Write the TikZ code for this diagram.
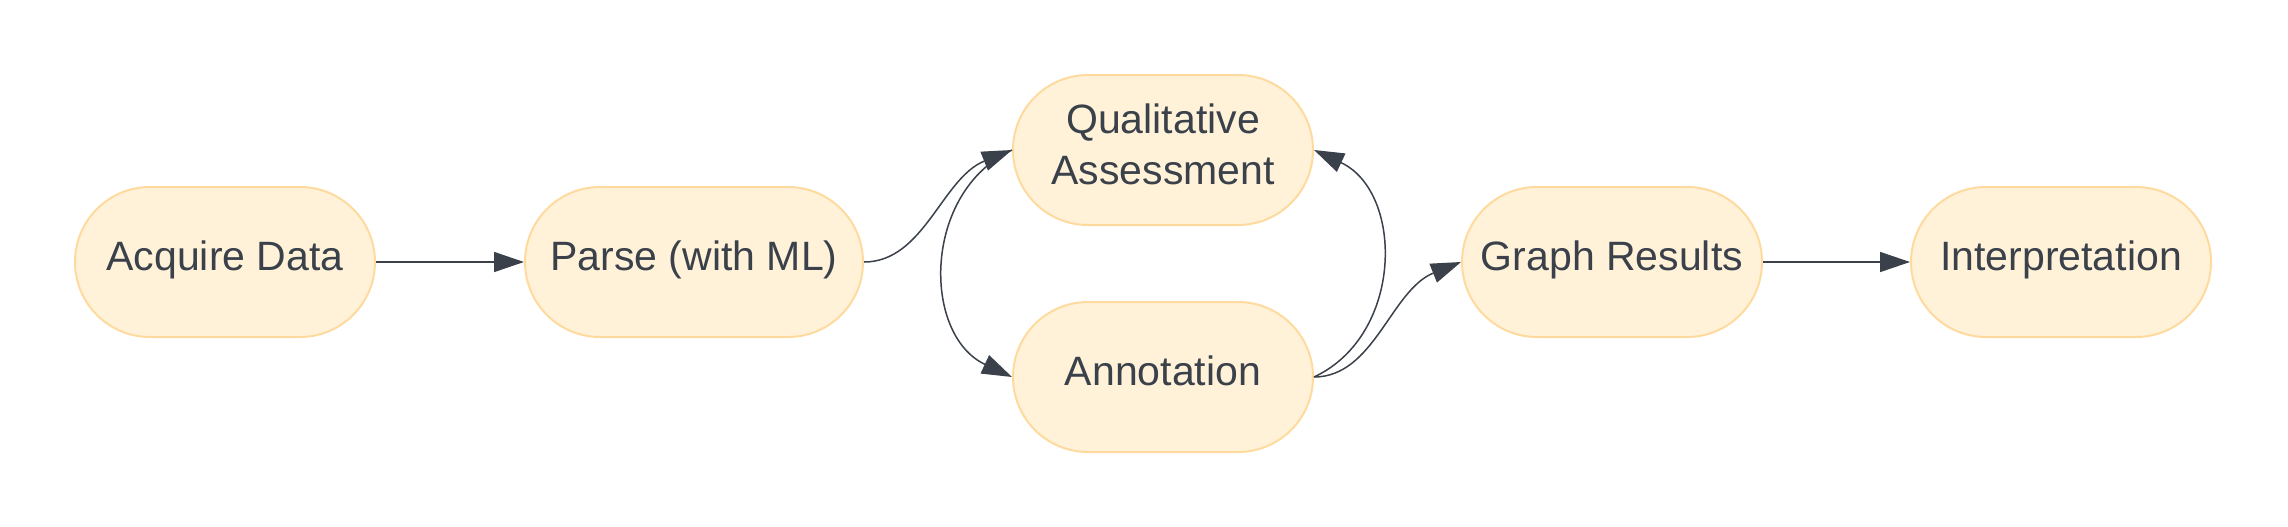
\documentclass[tikz,border=0pt]{standalone}
\usepackage{fontspec}
\setmainfont{Liberation Sans}
\usetikzlibrary{arrows.meta,positioning}
\definecolor{boxfill}{HTML}{FFF2D9}
\definecolor{boxline}{HTML}{FFDA9E}
\definecolor{ink}{HTML}{3A414A}
\begin{document}
\begin{tikzpicture}[x=1pt,y=-1pt,
box/.style={draw=boxline,fill=boxfill,line width=2pt,rounded corners=75pt,minimum width=300pt,minimum height=150pt,inner sep=0pt,text=ink,text depth=12pt,align=center,font=\fontsize{41}{50.7}\selectfont},
arr/.style={draw=ink,line width=1.5pt,-{Triangle[length=30pt,width=20pt]}}]
\pgfmathsetmacro{\ym}{262}
\pgfmathsetmacro{\dx}{90}
\pgfmathsetmacro{\dy}{42}
\useasboundingbox (0,0) rectangle (2288,527);
\node[box] (acq) at (225,\ym) {Acquire Data};
\node[box,minimum width=338pt] (parse) at (694,\ym) {Parse (with ML)};
\node[box] (qual) at (1163,150) {Qualitative\\Assessment};
\node[box] (annot) at (1163,377) {Annotation};
\node[box] (graph) at (1612,\ym) {Graph Results};
\node[box] (interp) at (2061,\ym) {Interpretation};
\draw[arr] (acq.east)--(parse.west);
\draw[arr] (parse.east) .. controls +(60,0) and +(-70,28) .. (qual.west);
\draw[arr] (qual.west) .. controls +(-\dx,\dy) and +(-\dx,-\dy) .. (annot.west);
\draw[arr] (annot.east) .. controls +(60,0) and +(-70,28) .. (graph.west);
\draw[arr] (annot.east) .. controls +(\dx,-\dy) and +(\dx,\dy) .. (qual.east);
\draw[arr] (graph.east)--(interp.west);
\end{tikzpicture}
\end{document}
